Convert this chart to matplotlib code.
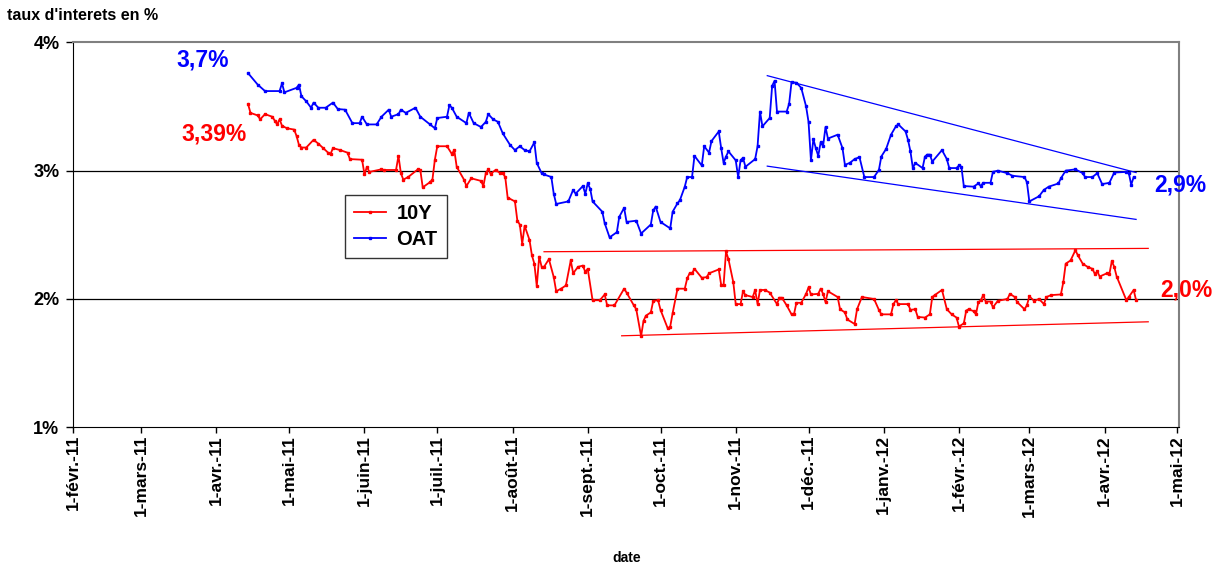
import pandas as pd
import matplotlib
matplotlib.use("Agg")
import matplotlib.pyplot as plt
import matplotlib.dates as mdates

plt.rcParams['font.family'] = ['Liberation Sans', 'DejaVu Sans']

start = pd.Timestamp('2011-02-01')

# OAT 10 ans (jours depuis le 1-févr.-11, taux en %)
oat_days = [72, 76, 79, 85, 86, 87, 92, 93, 94, 96, 98, 99, 101, 104, 107, 109, 112, 115, 118, 119,
            121, 125, 127, 130, 131, 134, 135, 137, 141, 143, 147, 149, 150, 154, 155, 156, 158, 162, 163, 165,
            168, 170, 171, 173, 175, 177, 180, 182, 184, 186, 188, 190, 191, 193, 194, 197, 198, 199, 204, 206,
            207, 210, 211, 212, 213, 214, 218, 219, 221, 224, 225, 227, 228, 232, 234, 238, 239, 240, 242, 246,
            247, 249, 250, 252, 253, 255, 256, 259, 260, 262, 263, 266, 267, 268, 269, 270, 273, 274, 275, 276,
            277, 281, 282, 283, 284, 287, 288, 289, 290, 294, 295, 296, 298, 300, 302, 303, 304, 305, 306, 307,
            308, 309, 310, 311, 315, 317, 318, 320, 322, 324, 326, 330, 332, 333, 335, 337, 339, 340, 343, 344,
            345, 346, 347, 350, 351, 352, 353, 354, 358, 360, 361, 364, 365, 366, 367, 371, 373, 374, 375, 378,
            379, 381, 385, 387, 392, 393, 394, 398, 400, 402, 406, 407, 409, 413, 416, 417, 420, 422, 424, 427,
            429, 434, 435, 436, 437]
oat_vals = [3.76, 3.67, 3.62, 3.62, 3.68, 3.61, 3.645, 3.67, 3.58, 3.54, 3.49, 3.53, 3.49, 3.49, 3.53, 3.48, 3.475, 3.37, 3.37, 3.42,
            3.36, 3.36, 3.42, 3.475, 3.42, 3.44, 3.475, 3.45, 3.49, 3.42, 3.36, 3.33, 3.41, 3.42, 3.51, 3.49, 3.42, 3.37, 3.45, 3.37,
            3.34, 3.38, 3.44, 3.40, 3.38, 3.29, 3.20, 3.16, 3.19, 3.16, 3.15, 3.22, 3.06, 2.98, 2.97, 2.95, 2.82, 2.74, 2.76, 2.85,
            2.82, 2.88, 2.82, 2.90, 2.86, 2.76, 2.68, 2.59, 2.48, 2.52, 2.64, 2.71, 2.60, 2.61, 2.51, 2.58, 2.69, 2.72, 2.60, 2.55,
            2.68, 2.745, 2.77, 2.875, 2.95, 2.95, 3.115, 3.04, 3.19, 3.14, 3.23, 3.305, 3.175, 3.06, 3.11, 3.15, 3.08, 2.95, 3.08, 3.10,
            3.03, 3.09, 3.19, 3.46, 3.345, 3.41, 3.66, 3.70, 3.46, 3.46, 3.52, 3.69, 3.685, 3.645, 3.50, 3.38, 3.08, 3.245, 3.175, 3.115,
            3.22, 3.19, 3.34, 3.25, 3.28, 3.175, 3.045, 3.06, 3.09, 3.105, 2.95, 2.95, 3.005, 3.11, 3.17, 3.28, 3.345, 3.36, 3.305, 3.24,
            3.15, 3.02, 3.06, 3.02, 3.11, 3.125, 3.125, 3.07, 3.16, 3.09, 3.02, 3.02, 3.04, 3.03, 2.88, 2.875, 2.90, 2.88, 2.905, 2.905,
            2.99, 3.00, 2.98, 2.96, 2.95, 2.91, 2.76, 2.80, 2.85, 2.875, 2.90, 2.94, 3.00, 3.01, 2.98, 2.95, 2.95, 2.98, 2.895, 2.905,
            2.985, 2.99, 2.98, 2.89, 2.95]

# 10Y
y10_days = [72, 73, 76, 77, 79, 82, 83, 84, 85, 86, 88, 91, 92, 93, 94, 96, 99, 101, 103, 105,
            106, 107, 110, 113, 114, 119, 120, 121, 122, 127, 128, 133, 134, 135, 136, 138, 142, 143, 144, 147,
            148, 149, 150, 154, 156, 157, 158, 161, 162, 164, 168, 169, 170, 171, 172, 174, 176, 177, 178, 179,
            182, 183, 184, 185, 186, 188, 189, 190, 191, 192, 193, 194, 196, 198, 199, 201, 203, 205, 206, 208,
            210, 211, 212, 214, 217, 219, 220, 223, 227, 228, 231, 232, 234, 235, 236, 238, 239, 241, 242, 245,
            246, 247, 249, 252, 253, 254, 255, 256, 259, 261, 262, 266, 267, 268, 269, 270, 272, 273, 275, 276,
            277, 280, 281, 282, 283, 285, 287, 290, 291, 292, 294, 296, 297, 298, 300, 302, 303, 304, 307, 308,
            309, 310, 311, 315, 316, 318, 319, 322, 323, 325, 330, 332, 333, 337, 338, 339, 340, 344, 345, 347,
            348, 351, 353, 354, 355, 358, 360, 362, 364, 365, 367, 368, 369, 371, 372, 373, 374, 375, 376, 378,
            379, 381, 385, 386, 388, 389, 392, 393, 394, 396, 398, 400, 401, 403, 407, 408, 409, 411, 413, 414,
            416, 418, 420, 421, 422, 423, 426, 427, 428, 429, 430, 434, 435, 437, 438]
y10_vals = [3.52, 3.45, 3.43, 3.40, 3.44, 3.42, 3.39, 3.36, 3.40, 3.35, 3.33, 3.32, 3.27, 3.20, 3.18, 3.18, 3.24, 3.21, 3.175, 3.14,
            3.13, 3.175, 3.16, 3.14, 3.09, 3.085, 2.97, 3.03, 2.99, 3.01, 3.005, 3.005, 3.115, 2.98, 2.93, 2.95, 3.01, 3.005, 2.87, 2.91,
            2.93, 3.085, 3.19, 3.19, 3.13, 3.16, 3.03, 2.93, 2.88, 2.94, 2.92, 2.88, 2.98, 3.01, 2.975, 3.005, 2.98, 2.98, 2.95, 2.79,
            2.76, 2.61, 2.58, 2.43, 2.57, 2.46, 2.34, 2.275, 2.10, 2.33, 2.25, 2.25, 2.31, 2.17, 2.06, 2.08, 2.105, 2.30, 2.20, 2.25,
            2.26, 2.21, 2.235, 1.99, 1.99, 2.035, 1.95, 1.95, 2.08, 2.05, 1.95, 1.92, 1.71, 1.83, 1.87, 1.895, 1.985, 1.99, 1.915, 1.77,
            1.785, 1.89, 2.08, 2.08, 2.16, 2.20, 2.20, 2.235, 2.165, 2.17, 2.20, 2.23, 2.11, 2.11, 2.37, 2.31, 2.13, 1.96, 1.96, 2.06,
            2.03, 2.015, 2.07, 1.96, 2.07, 2.07, 2.05, 1.96, 2.01, 2.01, 1.95, 1.88, 1.88, 1.97, 1.97, 2.04, 2.09, 2.035, 2.04, 2.08,
            2.04, 1.975, 2.06, 2.015, 1.92, 1.895, 1.84, 1.805, 1.92, 2.015, 2.00, 1.915, 1.88, 1.88, 1.96, 1.99, 1.96, 1.96, 1.915, 1.92,
            1.86, 1.855, 1.88, 2.015, 2.03, 2.07, 1.92, 1.88, 1.855, 1.785, 1.81, 1.91, 1.92, 1.905, 1.88, 1.975, 1.99, 2.03, 1.98, 1.98,
            1.935, 1.985, 2.00, 2.04, 2.015, 1.975, 1.92, 1.95, 2.02, 1.985, 2.00, 1.96, 2.015, 2.03, 2.035, 2.13, 2.275, 2.30, 2.38, 2.34,
            2.275, 2.25, 2.235, 2.195, 2.215, 2.175, 2.20, 2.195, 2.295, 2.25, 2.175, 1.99, 2.015, 2.07, 1.99]

# droites de tendance tracées à la main (jour début/fin, taux début/fin)
oat_top_days, oat_top_vals = [286, 438], [3.74, 2.985]
oat_bot_days, oat_bot_vals = [286, 438], [3.035, 2.62]
y10_top_days, y10_top_vals = [194, 443], [2.368, 2.394]
y10_bot_days, y10_bot_vals = [226, 443], [1.713, 1.822]

month_labels = ['1-févr.-11', '1-mars-11', '1-avr.-11', '1-mai-11', '1-juin-11', '1-juil.-11',
                '1-août-11', '1-sept.-11', '1-oct.-11', '1-nov.-11', '1-déc.-11', '1-janv.-12',
                '1-févr.-12', '1-mars-12', '1-avr.-12', '1-mai-12']
y_ticks = [1, 2, 3, 4]


def to_dates(days):
    return start + pd.to_timedelta(days, unit='D')


fig = plt.figure(figsize=(12.12, 5.64), dpi=100)
ax = fig.add_axes([0.0605, 0.2424, 0.9125, 0.6826])

ax.plot(to_dates(y10_days), y10_vals, color='#FF0000', lw=1.3, marker='s', ms=1.8, label='10Y')
ax.plot(to_dates(oat_days), oat_vals, color='#0000FF', lw=1.3, marker='s', ms=1.8, label='OAT')

ax.plot(to_dates(oat_top_days), oat_top_vals, color='#0000FF', lw=0.9)
ax.plot(to_dates(oat_bot_days), oat_bot_vals, color='#0000FF', lw=0.9)
ax.plot(to_dates(y10_top_days), y10_top_vals, color='#FF0000', lw=0.9)
ax.plot(to_dates(y10_bot_days), y10_bot_vals, color='#FF0000', lw=0.9)

for g in [2, 3]:
    ax.axhline(g, color='black', lw=0.9, zorder=0)

ax.set_ylim(1, 4)
ax.set_yticks(y_ticks)
ax.set_yticklabels([f'{t}%' for t in y_ticks], fontsize=13, fontweight='bold')

ticks = pd.date_range('2011-02-01', '2012-05-01', freq='MS')
ax.set_xlim(mdates.date2num(pd.Timestamp('2011-02-01')), mdates.date2num(pd.Timestamp('2012-05-01')) + 0.8)
ax.set_xticks(mdates.date2num(ticks))
ax.set_xticklabels(month_labels, rotation=90, fontsize=12.5, fontweight='bold')
ax.tick_params(axis='x', direction='out', length=4, width=1, pad=1.5)
ax.tick_params(axis='y', direction='out', length=5, width=1, pad=5)

ax.spines['top'].set_color('#808080')
ax.spines['right'].set_color('#808080')
ax.spines['top'].set_linewidth(1.5)
ax.spines['right'].set_linewidth(1.5)

fig.text(0.006, 0.973, "taux d'interets en %", fontsize=11.5, fontweight='bold', va='center')
fig.text(0.517, 0.011, 'date', fontsize=10, fontweight='bold', ha='center', va='center')

fig.text(203 / 1212, 1 - 60 / 564, '3,7%', color='#0000FF', fontsize=16.5, fontweight='bold', ha='center', va='center')
fig.text(214 / 1212, 1 - 134 / 564, '3,39%', color='#FF0000', fontsize=16.5, fontweight='bold', ha='center', va='center')
fig.text(1180 / 1212, 1 - 185 / 564, '2,9%', color='#0000FF', fontsize=16.5, fontweight='bold', ha='center', va='center')
fig.text(1186 / 1212, 1 - 290 / 564, '2,0%', color='#FF0000', fontsize=16.5, fontweight='bold', ha='center', va='center')

leg = ax.legend(loc='upper left', bbox_to_anchor=(345 / 1212, 1 - 195 / 564), bbox_transform=fig.transFigure,
                borderaxespad=0, prop={'size': 14.5, 'weight': 'bold'}, frameon=True, fancybox=False,
                handlelength=1.6, handletextpad=0.5, borderpad=0.45, labelspacing=0.35, markerscale=1)
leg.get_frame().set_edgecolor('black')
leg.get_frame().set_linewidth(1)

fig.savefig('out.png', dpi=100)
